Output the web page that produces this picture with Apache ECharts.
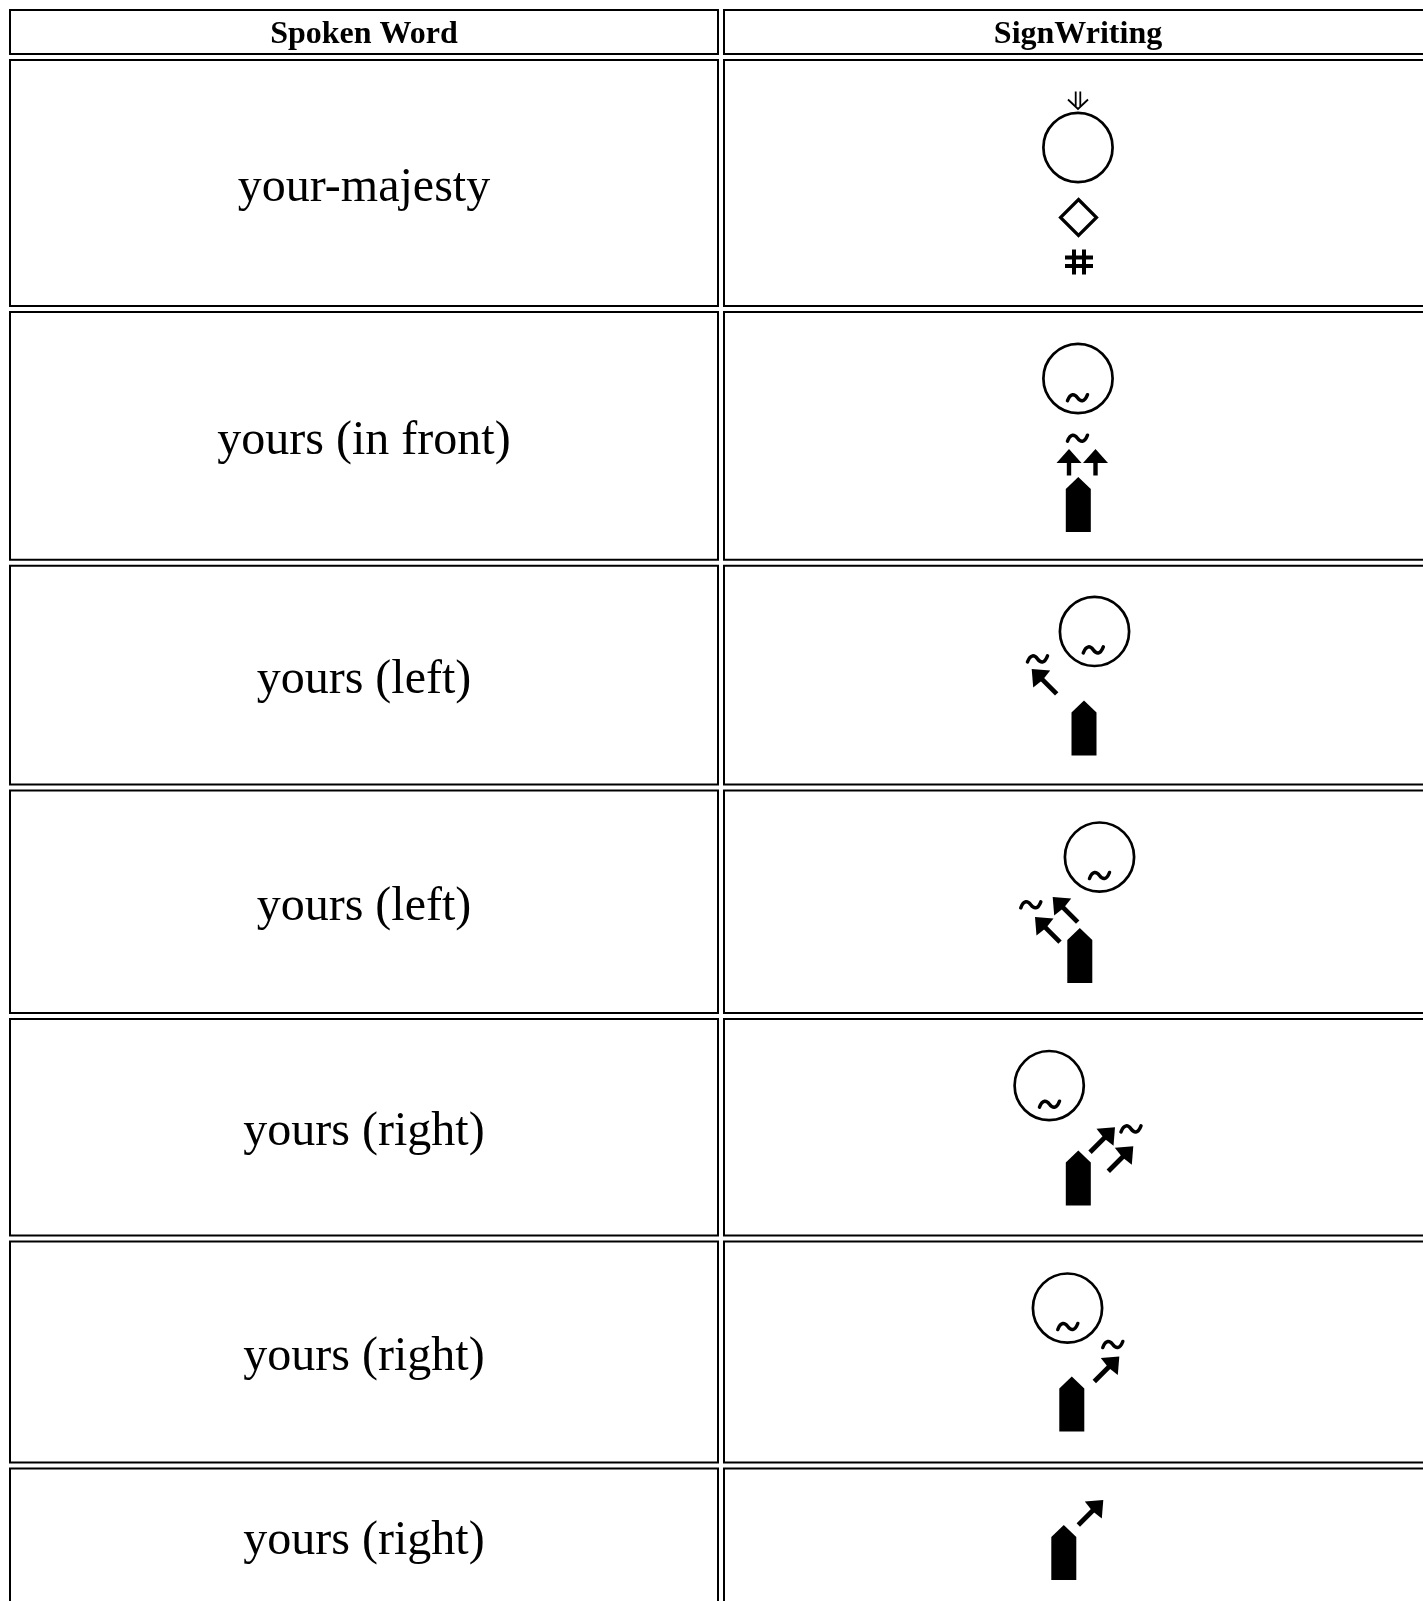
<!DOCTYPE html>
<html>
<head>
<meta charset="utf-8">
<script src="https://cdn.jsdelivr.net/npm/echarts@6/dist/echarts.min.js"></script>
<style>
html,body{margin:0;padding:0;background:#fff;overflow:hidden;width:1423px;height:1601px;}
#chart{width:1460px;height:1660px;}
</style>
</head>
<body>
<div id="chart"></div>
<script>
// ---------- data ----------
const columnHeaders = ['Spoken Word', 'SignWriting'];
const spokenWords = ['your-majesty', 'yours (in front)', 'yours (left)', 'yours (left)', 'yours (right)', 'yours (right)', 'yours (right)'];

// SignWriting signs: each symbol is [glyph, x, y] in the sign's own frame
// (x measured from the sign's centre line, y from the sign's top edge)
const sign1 = [['movementDoubleDown', 0, 0], ['head', 0, 56], ['diamond', 0.5, 126], ['hash', 1, 170.5]];
const sign2 = [['head', 0, 35], ['tilde', -0.5, 54.2], ['tilde', -0.5, 94.7], ['arrowUp', -9, 105.4], ['arrowUp', 17.5, 105.4], ['hand', 0.3, 133.4]];
const sign3 = [['head', 16.5, 34.2], ['tilde', 15.3, 52.7], ['tilde', -40.5, 61.7], ['arrowUL', -46.3, 71.7], ['hand', 6, 103.4]];
const sign4 = [['head', 21.5, 35], ['tilde', 21.5, 53.4], ['tilde', -47.2, 82.7], ['arrowUL', -25.3, 75], ['arrowUL', -43, 95], ['hand', 1.8, 106]];
const sign5 = [['head', -28.8, 35], ['tilde', -28.5, 53.6], ['arrowUR', 12, 76.6], ['arrowUR', 30.3, 95.6], ['tilde', 53, 78.3], ['hand', 0.3, 100]];
const sign6 = [['head', -10.5, 35], ['tilde', -10.2, 53.4], ['tilde', 34.8, 71.4], ['arrowUR', 16.3, 83.4], ['hand', -6.2, 103.4]];
const sign7 = [['arrowUR', 0.3, 0], ['hand', -14.2, 25]];
const signs = [sign1, sign2, sign3, sign4, sign5, sign6, sign7];
const signHeights = [184.5, 186.2, 157.4, 161, 155, 159.4, 74];

// ---------- layout constants ----------
const HEADER_H = 46, ROW_GAP = 4, COL_GAP = 4, PAD_TOP = 32.5, PAD_TOTAL = 63.5;
const COL_BAND = 714;

// rows (table layout: row height follows its sign)
const cells = [];
let cursor = 0;
cells.push([0, cursor, cursor + HEADER_H, -1]);
cells.push([1, cursor, cursor + HEADER_H, -1]);
cursor += HEADER_H + ROW_GAP;
spokenWords.forEach(function (w, i) {
  const h = signHeights[i] + PAD_TOTAL;
  cells.push([0, cursor, cursor + h, i]);
  cells.push([1, cursor, cursor + h, i]);
  cursor += h + ROW_GAP;
});
const tableHeight = cursor;

// ---------- glyph drawing ----------
const INK = '#000';
function glyph(sym) {
  const kind = sym[0], x = sym[1], y = sym[2];
  const strokeStyle = function (lw) { return { fill: 'none', stroke: INK, lineWidth: lw, lineCap: 'butt' }; };
  switch (kind) {
    case 'head':
      return [{ type: 'circle', shape: { cx: x, cy: y, r: 34.6 }, style: strokeStyle(2.7) }];
    case 'tilde':
      return [{ type: 'path', x: x, y: y, shape: { pathData: 'M-10,3 C-7,-5 -3,-4 0,0 C3,4 7,5 10,-3' }, style: { fill: 'none', stroke: INK, lineWidth: 3.5, lineCap: 'round' } }];
    case 'hand':
      return [{ type: 'polygon', shape: { points: [[x, y], [x + 12.5, y + 12], [x + 12.5, y + 55], [x - 12.5, y + 55], [x - 12.5, y + 12]] }, style: { fill: INK } }];
    case 'arrowUp':
      return [
        { type: 'polygon', shape: { points: [[x, y], [x + 12.5, y + 14], [x - 12.5, y + 14]] }, style: { fill: INK } },
        { type: 'rect', shape: { x: x - 2.2, y: y + 12, width: 4.4, height: 14.6 }, style: { fill: INK } }
      ];
    case 'arrowUL':
      return [
        { type: 'polygon', shape: { points: [[x, y], [x + 18.5, y + 1.5], [x + 11, y + 11], [x + 1.5, y + 18.5]] }, style: { fill: INK } },
        { type: 'line', shape: { x1: x + 7, y1: y + 7, x2: x + 25, y2: y + 25 }, style: { stroke: INK, lineWidth: 4.8 } }
      ];
    case 'arrowUR':
      return [
        { type: 'polygon', shape: { points: [[x + 25, y], [x + 6.5, y + 1.5], [x + 14, y + 11], [x + 23.5, y + 18.5]] }, style: { fill: INK } },
        { type: 'line', shape: { x1: x + 18, y1: y + 7, x2: x, y2: y + 25 }, style: { stroke: INK, lineWidth: 4.8 } }
      ];
    case 'diamond':
      return [{ type: 'polygon', shape: { points: [[x, y - 18], [x + 18, y], [x, y + 18], [x - 18, y]] }, style: strokeStyle(3.2) }];
    case 'hash':
      return [
        { type: 'line', shape: { x1: x - 5, y1: y - 12.5, x2: x - 5, y2: y + 12.5 }, style: strokeStyle(4) },
        { type: 'line', shape: { x1: x + 5, y1: y - 12.5, x2: x + 5, y2: y + 12.5 }, style: strokeStyle(4) },
        { type: 'line', shape: { x1: x - 14, y1: y - 4.5, x2: x + 14, y2: y - 4.5 }, style: strokeStyle(4) },
        { type: 'line', shape: { x1: x - 14, y1: y + 4, x2: x + 14, y2: y + 4 }, style: strokeStyle(4) }
      ];
    case 'movementDoubleDown':
      return [
        { type: 'line', shape: { x1: x - 2.3, y1: y, x2: x - 2.3, y2: y + 14.5 }, style: strokeStyle(1.8) },
        { type: 'line', shape: { x1: x + 2.3, y1: y, x2: x + 2.3, y2: y + 14.5 }, style: strokeStyle(1.8) },
        { type: 'polyline', shape: { points: [[x - 10, y + 8], [x, y + 17.5], [x + 10, y + 8]] }, style: strokeStyle(1.8) }
      ];
  }
  return [];
}

function renderCell(params, api) {
  const col = api.value(0), top = api.value(1), bottom = api.value(2), row = api.value(3);
  const p0 = api.coord([col, top]);
  const p1 = api.coord([col, bottom]);
  const band = api.size([1, 0])[0];
  const left = p0[0] - band / 2;
  const w = band - COL_GAP;
  const y0 = p0[1], y1 = p1[1];
  const cx = left + w / 2, cy = (y0 + y1) / 2;
  const children = [{
    type: 'rect',
    shape: { x: left + 1, y: y0 + 1, width: w - 2, height: y1 - y0 - 2 },
    style: { fill: '#fff', stroke: '#000', lineWidth: 2 }
  }];
  if (row < 0) {
    children.push({ type: 'text', x: cx, y: cy + 2.5, style: { text: columnHeaders[col], font: 'bold 32px "Liberation Serif", "Times New Roman", serif', fill: '#000', align: 'center', verticalAlign: 'middle' } });
  } else if (col === 0) {
    children.push({ type: 'text', x: cx, y: cy + 5.5, style: { text: spokenWords[row], font: '48px "Liberation Serif", "Times New Roman", serif', fill: '#000', align: 'center', verticalAlign: 'middle' } });
  } else {
    let g = [];
    signs[row].forEach(function (s) { g = g.concat(glyph(s)); });
    children.push({ type: 'group', x: cx, y: y0 + PAD_TOP, children: g });
  }
  return { type: 'group', children: children };
}

const chart = echarts.init(document.getElementById('chart'), null, { renderer: 'canvas' });
chart.setOption({
  animation: false,
  backgroundColor: '#fff',
  grid: { left: 9, top: 9, width: COL_BAND * columnHeaders.length, height: tableHeight, containLabel: false },
  xAxis: { type: 'category', data: columnHeaders, boundaryGap: true, show: false },
  yAxis: { type: 'value', inverse: true, min: 0, max: tableHeight, show: false },
  series: [{
    type: 'custom',
    coordinateSystem: 'cartesian2d',
    renderItem: renderCell,
    data: cells,
    encode: { x: 0, y: [1, 2] },
    clip: false,
    silent: true
  }]
});
</script>
</body>
</html>
